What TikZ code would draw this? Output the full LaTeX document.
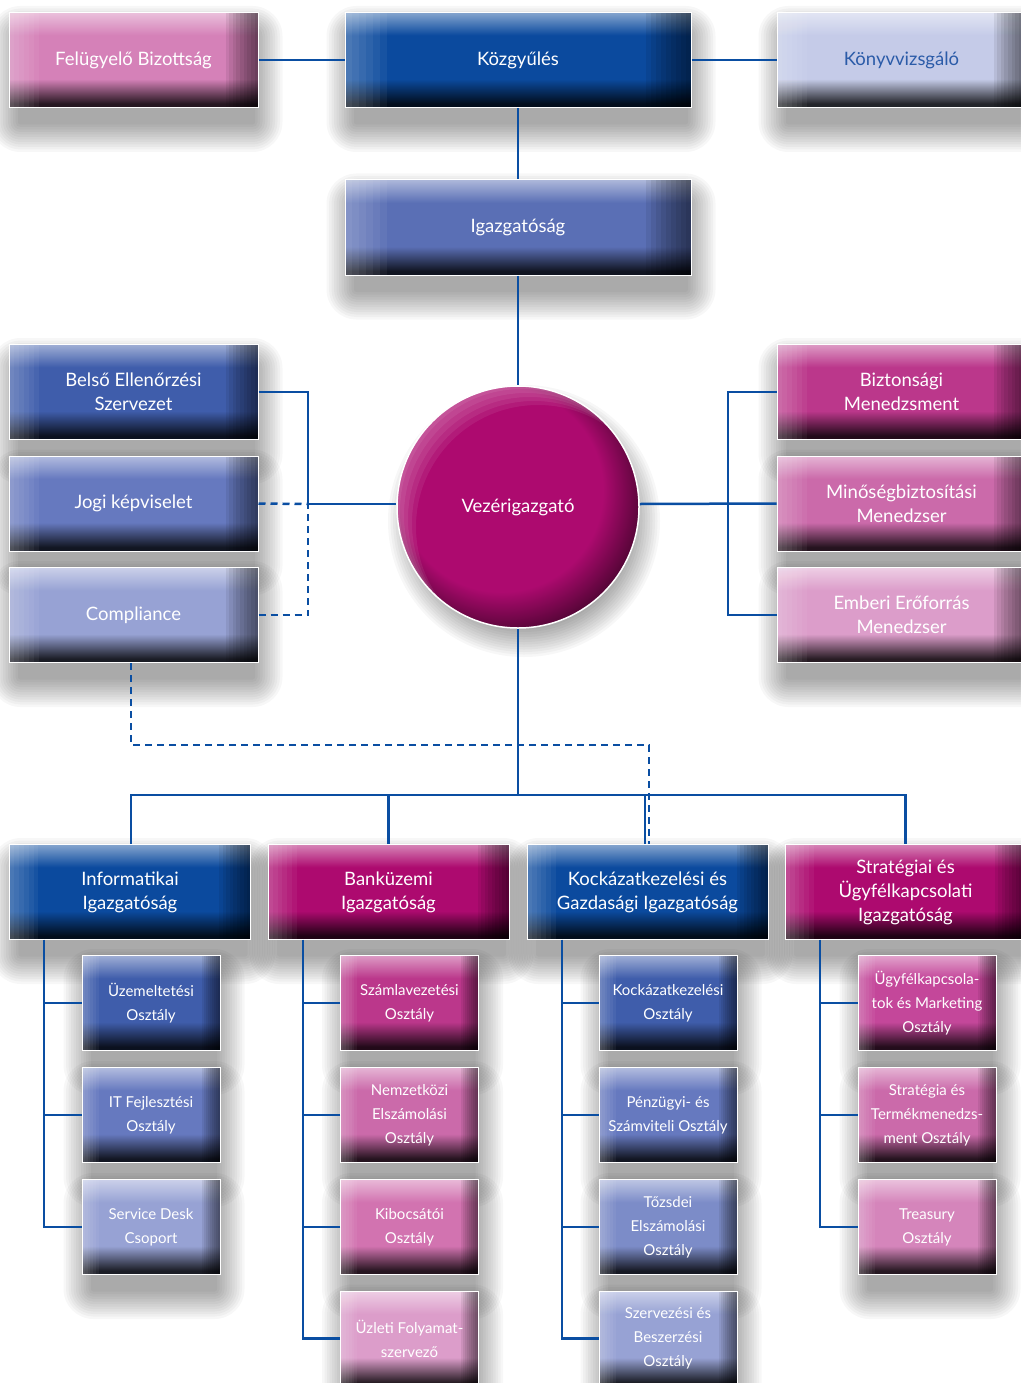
\documentclass[tikz,border=0pt]{standalone}
\usepackage{fontspec}
\setmainfont{Lato}
\usetikzlibrary{calc}

\pgfdeclarelayer{background}
\pgfsetlayers{background,main}

\definecolor{lineblue}{HTML}{0A4EA2}
\definecolor{cK}{HTML}{0B4A9E}
\definecolor{cI}{HTML}{5A6FB5}
\definecolor{cFel}{HTML}{D581B8}
\definecolor{cKonyv}{HTML}{C5CBE8}
\definecolor{tKonyv}{HTML}{2B5BA8}
\definecolor{cB1}{HTML}{3F5DAB}
\definecolor{cB2}{HTML}{6679BF}
\definecolor{cB3}{HTML}{97A2D4}
\definecolor{cB4}{HTML}{7C8CC8}
\definecolor{cV}{HTML}{AD0A6F}
\definecolor{cP1}{HTML}{BB378B}
\definecolor{cP2}{HTML}{CB6AAA}
\definecolor{cP3}{HTML}{DC9DCA}
\definecolor{cP4}{HTML}{D273B0}
\definecolor{cP5}{HTML}{D585BB}
\definecolor{cP6}{HTML}{C4479A}

\colorlet{bmid}{cK}\colorlet{btop}{cK!50!white}\colorlet{bbot}{cK!18!black}
\colorlet{vmain}{cV}\colorlet{vdark}{cV!25!black}

\pgfdeclareverticalshading[bbot,bmid,btop]{boxshade}{100bp}{color(0bp)=(bbot); color(27bp)=(bbot); color(40bp)=(bmid); color(63bp)=(bmid); color(75bp)=(btop); color(100bp)=(btop)}
\pgfdeclareradialshading[vmain,vdark]{vshade}{\pgfpoint{-6bp}{6bp}}{color(0bp)=(vmain); color(21bp)=(vmain); color(32bp)=(vdark); color(50bp)=(vdark)}

\tikzset{
  setcol/.code={\colorlet{bmid}{#1}\colorlet{btop}{#1!50!white}\colorlet{bbot}{#1!18!black}},
  boxbase/.style={rectangle, inner sep=0pt, draw=white, line width=1pt,
    shade, shading=boxshade, text=white, align=center,
    path picture={
      \foreach \k in {0,...,8}
        \fill[black, fill opacity=0.07]
          ($(path picture bounding box.north west)!{0.87+0.0145*\k}!(path picture bounding box.north east)$)
          rectangle (path picture bounding box.south east);
      \foreach \k in {0,...,5}
        \fill[white, fill opacity=0.05]
          (path picture bounding box.north west)
          rectangle ($(path picture bounding box.south west)!{0.12-0.02*\k}!(path picture bounding box.south east)$);
    }},
  bigbox/.style={boxbase, setcol=#1, minimum width=249pt, minimum height=95pt, font=\fontsize{18.5}{24}\selectfont},
  widebox/.style={bigbox=#1, minimum width=346pt},
  dirbox/.style={bigbox=#1, minimum width=241pt},
  subbox/.style={boxbase, setcol=#1, minimum width=138pt, minimum height=95pt, font=\fontsize{15}{24}\selectfont},
  ceo/.style={circle, inner sep=0pt, minimum size=242pt, draw=white, line width=1.5pt,
    shade, shading=vshade, text=white, font=\fontsize{18.5}{24}\selectfont,
    path picture={
      \foreach \s in {4,8,12,16,20}
        \fill[white, fill opacity=0.07, even odd rule]
          (path picture bounding box.center) circle[radius=122]
          ($(path picture bounding box.center)+(\s,\s)$) circle[radius=122];
    }},
  shadowlayer/.style={black, fill opacity=0.032},
  ln/.style={draw=lineblue, line width=2.5pt},
  dln/.style={ln, dash pattern=on 7pt off 5pt},
}

\begin{document}
\begin{tikzpicture}[x=1pt, y=-1pt]
\begin{pgfonlayer}{background}
\fill[white] (0,0) rectangle (1020,1383);
\end{pgfonlayer}
\useasboundingbox (0,0) rectangle (1020,1383);

% top row
\node[bigbox=cFel] (fel) at (133.5,60) {Felügyelő Bizottság};
\node[widebox=cK] (koz) at (518,60) {Közgyűlés};
\node[bigbox=cKonyv, text=tKonyv] (konyv) at (901.5,60) {Könyvvizsgáló};
\node[widebox=cI] (igaz) at (518,227.5) {Igazgatóság};

% staff
\node[bigbox=cB1] (belso) at (133.5,392) {Belső Ellenőrzési\\Szervezet};
\node[bigbox=cP1] (bizt) at (901.5,392) {Biztonsági\\Menedzsment};
\node[bigbox=cB2] (jogi) at (133.5,503.5) {Jogi képviselet};
\node[bigbox=cP2] (mino) at (901.5,503.5) {Minőségbiztosítási\\Menedzser};
\node[ceo] (vez) at (518,507) {Vezérigazgató};
\node[bigbox=cB3] (compl) at (133.5,615) {Compliance};
\node[bigbox=cP3] (ember) at (901.5,615) {Emberi Erőforrás\\Menedzser};

% directorates
\node[dirbox=cK] (info) at (130,892) {Informatikai\\Igazgatóság};
\node[dirbox=cV] (bank) at (388.5,892) {Banküzemi\\Igazgatóság};
\node[dirbox=cK] (kock) at (647.5,892) {Kockázatkezelési és\\Gazdasági Igazgatóság};
\node[dirbox=cV] (strat) at (905.5,892) {Stratégiai és\\Ügyfélkapcsolati\\Igazgatóság};

% departments row 1
\node[subbox=cB1] (a1) at (151,1003) {Üzemeltetési\\Osztály};
\node[subbox=cP1] (b1) at (409.5,1003) {Számlavezetési\\Osztály};
\node[subbox=cB1] (c1) at (668,1003) {Kockázatkezelési\\Osztály};
\node[subbox=cP6] (d1) at (927,1003) {Ügyfélkapcsola-\\tok és Marketing\\Osztály};
% row 2
\node[subbox=cB2] (a2) at (151,1115) {IT Fejlesztési\\Osztály};
\node[subbox=cP2] (b2) at (409.5,1115) {Nemzetközi\\Elszámolási\\Osztály};
\node[subbox=cB2] (c2) at (668,1115) {Pénzügyi- és\\Számviteli Osztály};
\node[subbox=cP2] (d2) at (927,1115) {Stratégia és\\Termékmenedzs-\\ment Osztály};
% row 3
\node[subbox=cB3] (a3) at (151,1227) {Service Desk\\Csoport};
\node[subbox=cP4] (b3) at (409.5,1227) {Kibocsátói\\Osztály};
\node[subbox=cB4] (c3) at (668,1227) {Tőzsdei\\Elszámolási\\Osztály};
\node[subbox=cP5] (d3) at (927,1227) {Treasury\\Osztály};
% row 4
\node[subbox=cP3] (b4) at (409.5,1338.5) {Üzleti Folyamat-\\szervező};
\node[subbox=cB3] (c4) at (668,1338.5) {Szervezési és\\Beszerzési\\Osztály};

% soft shadows behind everything
\begin{pgfonlayer}{background}
\foreach \n in {fel,koz,konyv,igaz,belso,bizt,jogi,mino,compl,ember,info,bank,kock,strat,a1,b1,c1,d1,a2,b2,c2,d2,a3,b3,c3,d3,b4,c4} {
  \foreach \i in {1,...,12} {
    \pgfmathsetmacro\d{2.5*\i}
    \fill[shadowlayer, rounded corners=\d pt]
      ($(\n.north west)+(12-\d,24-\d)$) rectangle ($(\n.south east)+(-6+\d,14+\d)$);
  }
}
\foreach \i in {1,...,12} {
  \pgfmathsetmacro\d{2.5*\i}
  \fill[shadowlayer] ($(vez.center)+(6,14)$) circle[radius=106+\d];
}
\end{pgfonlayer}

% connectors: top
\draw[ln] (fel.east) -- (koz.west);
\draw[ln] (koz.east) -- (konyv.west);
\draw[ln] (koz.south) -- (igaz.north);
\draw[ln] (igaz.south) -- (vez.north);

% left bracket
\coordinate (lb) at (308,504);
\draw[ln] (belso.east) -| (lb) -- (vez.west |- lb);
\draw[dln] (jogi.east) -- (lb);
\draw[dln] (compl.east) -| (lb);

% right bracket
\coordinate (rb) at (728,504);
\draw[ln] (bizt.west) -| (rb) |- (ember.west);
\draw[ln] (vez.east |- rb) -- (mino.west);

% bus to directorates
\coordinate (bus) at (518,795);
\draw[ln] (vez.south) -- (bus);
\draw[ln] ([xshift=1pt]info.north) |- (bus) -| (strat.north);
\draw[ln] (bank.north) -- (bank.north |- bus);
\draw[ln] ([xshift=-2.5pt]kock.north) -- ([xshift=-2.5pt]kock.north |- bus);

% dashed compliance link
\draw[dln] ([xshift=-2.5pt]compl.south) -- ++(0,82) -| ([xshift=1.5pt]kock.north);

% department trees
\coordinate (ta) at (44,939.5);
\coordinate (tb) at (303,939.5);
\coordinate (tc) at (562,939.5);
\coordinate (td) at (820,939.5);
\draw[ln] (ta) |- (a3.west);
\draw[ln] (tb) |- (b4.west);
\draw[ln] (tc) |- (c4.west);
\draw[ln] (td) |- (d3.west);
\foreach \n in {a1,a2} \draw[ln] (\n.west) -- (\n.west -| ta);
\foreach \n in {b1,b2,b3} \draw[ln] (\n.west) -- (\n.west -| tb);
\foreach \n in {c1,c2,c3} \draw[ln] (\n.west) -- (\n.west -| tc);
\foreach \n in {d1,d2} \draw[ln] (\n.west) -- (\n.west -| td);
\end{tikzpicture}
\end{document}
